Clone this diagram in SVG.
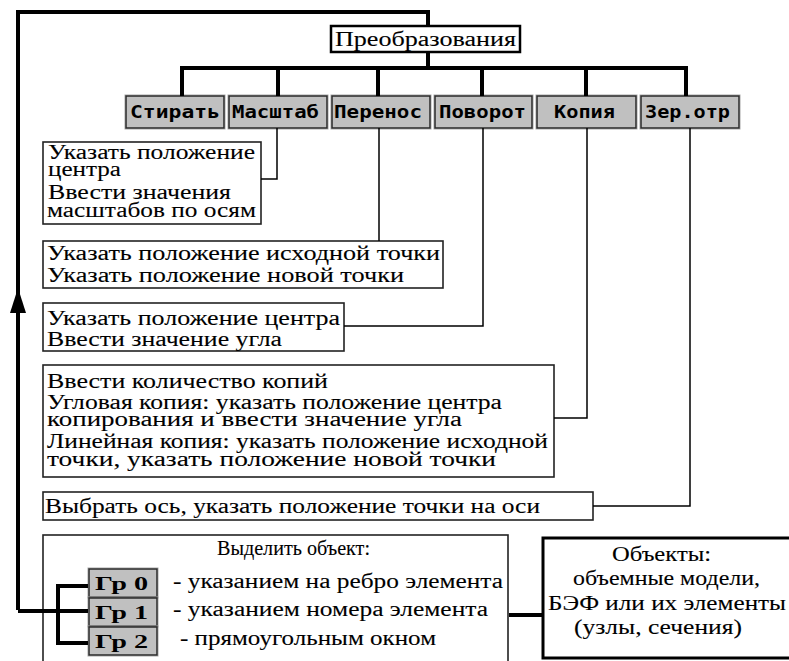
<svg xmlns="http://www.w3.org/2000/svg" width="789" height="661" viewBox="0 0 789 661">
<style>
.t{font-family:"Liberation Serif","DejaVu Serif",serif;font-size:20px;fill:#000;stroke:#000;stroke-width:0.1}
.box{fill:#fff;stroke:#222;stroke-width:1.6}
.btn{fill:#c0c0c0;stroke:#2a2a2a;stroke-width:1.5}
.btno{fill:none;stroke:#a8a8a8;stroke-width:1}
.bt{font-family:"DejaVu Sans Mono","Liberation Mono",monospace;font-weight:bold;font-size:18px;fill:#000}
.gt{font-family:"Liberation Serif","DejaVu Serif",serif;font-weight:bold;font-size:19px;fill:#000}
.thick{fill:none;stroke:#000;stroke-width:4}
.thin{fill:none;stroke:#000;stroke-width:1.5}
</style>
<rect width="789" height="661" fill="#fff"/>

<g id="root">
  <rect x="331" y="26" width="189" height="26" fill="#fff" stroke="#000" stroke-width="2.5"/>
  <text class="t" x="335" y="46" textLength="181" lengthAdjust="spacingAndGlyphs">Преобразования</text>
</g>

<g id="btn-erase">
  <rect class="btno" x="125" y="95" width="100" height="34"/>
  <rect class="btn" x="126" y="96" width="98" height="32"/>
  <text class="bt" x="130" y="118" textLength="90" lengthAdjust="spacingAndGlyphs">Стирать</text>
</g>
<g id="btn-scale">
  <rect class="btno" x="228" y="95" width="100" height="34"/>
  <rect class="btn" x="229" y="96" width="98" height="32"/>
  <text class="bt" x="232" y="118" textLength="87" lengthAdjust="spacingAndGlyphs">Масштаб</text>
</g>
<g id="btn-move">
  <rect class="btno" x="331" y="95" width="100" height="34"/>
  <rect class="btn" x="332" y="96" width="98" height="32"/>
  <text class="bt" x="334" y="118" textLength="88" lengthAdjust="spacingAndGlyphs">Перенос</text>
</g>
<g id="btn-rotate">
  <rect class="btno" x="434" y="95" width="99" height="34"/>
  <rect class="btn" x="435" y="96" width="97" height="32"/>
  <text class="bt" x="439" y="118" textLength="87" lengthAdjust="spacingAndGlyphs">Поворот</text>
</g>
<g id="btn-copy">
  <rect class="btno" x="536" y="95" width="101" height="34"/>
  <rect class="btn" x="537" y="96" width="99" height="32"/>
  <text class="bt" x="554" y="118" textLength="61" lengthAdjust="spacingAndGlyphs">Копия</text>
</g>
<g id="btn-mirror">
  <rect class="btno" x="640" y="95" width="100" height="34"/>
  <rect class="btn" x="641" y="96" width="98" height="32"/>
  <text class="bt" x="645" y="118" textLength="85" lengthAdjust="spacingAndGlyphs">Зер.отр</text>
</g>

<g id="box-scale">
  <rect class="box" x="43" y="142" width="218" height="82"/>
  <text class="t" x="48" y="159" textLength="207" lengthAdjust="spacingAndGlyphs">Указать положение</text>
  <text class="t" x="48" y="176" textLength="73" lengthAdjust="spacingAndGlyphs">центра</text>
  <text class="t" x="48" y="199" textLength="183" lengthAdjust="spacingAndGlyphs">Ввести значения</text>
  <text class="t" x="47" y="217" textLength="209" lengthAdjust="spacingAndGlyphs">масштабов по осям</text>
</g>

<g id="box-move">
  <rect class="box" x="43" y="241" width="400" height="47"/>
  <text class="t" x="47" y="260" textLength="393" lengthAdjust="spacingAndGlyphs">Указать положение исходной точки</text>
  <text class="t" x="47" y="282" textLength="357" lengthAdjust="spacingAndGlyphs">Указать положение новой точки</text>
</g>

<g id="box-rotate">
  <rect class="box" x="43" y="303" width="301" height="48"/>
  <text class="t" x="47" y="325" textLength="293" lengthAdjust="spacingAndGlyphs">Указать положение центра</text>
  <text class="t" x="47" y="346" textLength="235" lengthAdjust="spacingAndGlyphs">Ввести значение угла</text>
</g>

<g id="box-copy">
  <rect class="box" x="43" y="365" width="511" height="112"/>
  <text class="t" x="47" y="388" textLength="281" lengthAdjust="spacingAndGlyphs">Ввести количество копий</text>
  <text class="t" x="47" y="409" textLength="455" lengthAdjust="spacingAndGlyphs">Угловая копия: указать положение центра</text>
  <text class="t" x="47" y="426" textLength="415" lengthAdjust="spacingAndGlyphs">копирования и ввести значение угла</text>
  <text class="t" x="47" y="448" textLength="501" lengthAdjust="spacingAndGlyphs">Линейная копия: указать положение исходной</text>
  <text class="t" x="47" y="466" textLength="449" lengthAdjust="spacingAndGlyphs">точки, указать положение новой точки</text>
</g>

<g id="box-mirror">
  <rect class="box" x="43" y="492" width="550" height="28"/>
  <text class="t" x="45" y="513" textLength="495" lengthAdjust="spacingAndGlyphs">Выбрать ось, указать положение точки на оси</text>
</g>

<g id="box-select">
  <rect class="box" x="43" y="535" width="465" height="140"/>
  <text class="t" x="217" y="555" textLength="153" lengthAdjust="spacingAndGlyphs">Выделить объект:</text>
  <text class="t" x="173" y="588" textLength="330" lengthAdjust="spacingAndGlyphs">- указанием на ребро элемента</text>
  <text class="t" x="173" y="616" textLength="315" lengthAdjust="spacingAndGlyphs">- указанием номера элемента</text>
  <text class="t" x="180" y="645" textLength="256" lengthAdjust="spacingAndGlyphs">- прямоугольным окном</text>
</g>

<g id="gr0">
  <rect class="btno" x="88" y="568" width="70" height="30"/>
  <rect class="btn" x="89" y="569" width="68" height="28"/>
  <text class="gt" x="95" y="590" textLength="53" lengthAdjust="spacingAndGlyphs">Гр 0</text>
</g>
<g id="gr1">
  <rect class="btno" x="88" y="597" width="70" height="30"/>
  <rect class="btn" x="89" y="598" width="68" height="28"/>
  <text class="gt" x="95" y="619" textLength="53" lengthAdjust="spacingAndGlyphs">Гр 1</text>
</g>
<g id="gr2">
  <rect class="btno" x="88" y="626" width="70" height="30"/>
  <rect class="btn" x="89" y="627" width="68" height="28"/>
  <text class="gt" x="95" y="648" textLength="53" lengthAdjust="spacingAndGlyphs">Гр 2</text>
</g>

<g id="objects">
  <rect x="543" y="538" width="260" height="120" fill="#fff" stroke="#000" stroke-width="3"/>
  <text class="t" x="612" y="561" textLength="99" lengthAdjust="spacingAndGlyphs">Объекты:</text>
  <text class="t" x="573" y="585" textLength="187" lengthAdjust="spacingAndGlyphs">объемные модели,</text>
  <text class="t" x="548" y="610" textLength="238" lengthAdjust="spacingAndGlyphs">БЭФ или их элементы</text>
  <text class="t" x="574" y="634" textLength="168" lengthAdjust="spacingAndGlyphs">(узлы, сечения)</text>
</g>

<g id="connectors">
  <path class="thick" d="M18,610 V12 H428 V26"/>
  <path class="thick" d="M428,52 V68"/>
  <path class="thick" d="M182,96 V68 H686 V96 M278,68 V96 M378,68 V96 M482,68 V96 M586,68 V96"/>
  <polygon points="18,288 10,313 26,313" fill="#000"/>
  <path class="thick" d="M18,611 H88 M88,586 H58 V643 H88"/>
  <path class="thick" d="M509,615 H542"/>
  <path class="thin" d="M277,128 V179 H261"/>
  <path class="thin" d="M379,128 V241"/>
  <path class="thin" d="M483,128 V326 H344"/>
  <path class="thin" d="M587,128 V418 H554"/>
  <path class="thin" d="M690,128 V506 H593"/>
</g>
</svg>
